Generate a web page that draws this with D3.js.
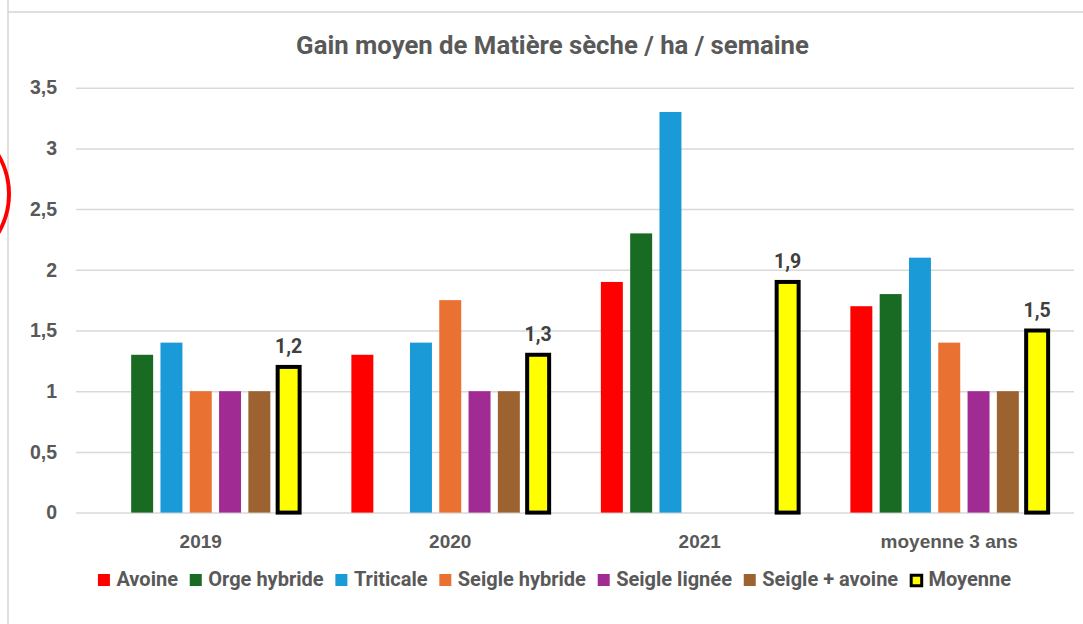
<!DOCTYPE html>
<html>
<head>
<meta charset="utf-8">
<script src="https://cdn.jsdelivr.net/npm/d3@7/dist/d3.min.js"></script>
<style>
  html, body { margin: 0; padding: 0; background: #fff; }
  svg { display: block; font-family: Roboto, "Noto Sans", sans-serif; }
</style>
</head>
<body>
<svg id="chart" width="1083" height="624"></svg>
<script>
// ---- Data ----
const title = "Gain moyen de Matière sèche / ha / semaine";
const categories = ["2019", "2020", "2021", "moyenne 3 ans"];
const seriesNames = ["Avoine", "Orge hybride", "Triticale", "Seigle hybride", "Seigle lignée", "Seigle + avoine", "Moyenne"];
const seriesColors = ["#FF0000", "#196B24", "#1A9BD7", "#E97132", "#A02B93", "#9C6330", "#FFFF00"];
const avoine        = [null, 1.3, 1.9, 1.7];
const orgeHybride   = [1.3, null, 2.3, 1.8];
const triticale     = [1.4, 1.4, 3.3, 2.1];
const seigleHybride = [1.0, 1.75, null, 1.4];
const seigleLignee  = [1.0, 1.0, null, 1.0];
const seigleAvoine  = [1.0, 1.0, null, 1.0];
const moyenne       = [1.2, 1.3, 1.9, 1.5];
const seriesValues = [avoine, orgeHybride, triticale, seigleHybride, seigleLignee, seigleAvoine, moyenne];
const yTicks = [0, 0.5, 1, 1.5, 2, 2.5, 3, 3.5];

// ---- Setup ----
const svg = d3.select("#chart");
const fr = d3.formatLocale({decimal: ",", thousands: " ", grouping: [3], currency: ["", " €"]});
const fmtTick = fr.format("~g");
const fmtVal = fr.format(".1f");

const plotLeft = 76, plotRight = 1074, plotTop = 87.7, plotBottom = 512.6;

// frame + annotation
svg.append("line").attr("x1", 8).attr("x2", 8).attr("y1", 0).attr("y2", 624)
  .attr("stroke", "#d4d4d4").attr("stroke-width", 1.5);
svg.append("line").attr("x1", 8).attr("x2", 1083).attr("y1", 12).attr("y2", 12)
  .attr("stroke", "#d4d4d4").attr("stroke-width", 1.5);
svg.append("circle").attr("cx", -67).attr("cy", 194).attr("r", 76)
  .attr("fill", "none").attr("stroke", "#FF0000").attr("stroke-width", 4);

const x0 = d3.scaleBand().domain(categories).range([plotLeft, plotRight])
  .paddingInner(0.178).paddingOuter(0.089);
const x1 = d3.scaleBand().domain(seriesNames).range([0, x0.bandwidth()])
  .paddingInner(0.25).paddingOuter(0.125);
const y = d3.scaleLinear().domain([0, 3.5]).range([plotBottom, plotTop]);
const color = d3.scaleOrdinal().domain(seriesNames).range(seriesColors);

// y axis + gridlines
const yAxis = svg.append("g").attr("transform", `translate(${plotLeft},0)`)
  .call(d3.axisLeft(y).tickValues(yTicks).tickFormat(fmtTick)
    .tickSizeInner(-(plotRight - plotLeft)).tickSizeOuter(0).tickPadding(19));
yAxis.select(".domain").remove();
yAxis.selectAll("line").attr("stroke", "#d9d9d9").attr("stroke-width", 1.5);
yAxis.selectAll("text").attr("fill", "#595959").attr("font-size", 19.5).attr("font-weight", 700);

// x axis
const xAxis = svg.append("g").attr("transform", `translate(0,${plotBottom})`)
  .call(d3.axisBottom(x0).tickSize(0).tickPadding(22));
xAxis.select(".domain").remove();
xAxis.selectAll("text").attr("fill", "#595959").attr("font-size", 19).attr("font-weight", 700);

// bars
const rows = [];
categories.forEach((c, ci) => {
  seriesNames.forEach((s, si) => {
    const v = seriesValues[si][ci];
    if (v !== null && v !== undefined) rows.push({cat: c, series: s, value: v});
  });
});

svg.append("g").selectAll("rect").data(rows).join("rect")
  .attr("x", d => x0(d.cat) + x1(d.series))
  .attr("width", x1.bandwidth())
  .attr("y", d => y(d.value))
  .attr("height", d => y(0) - y(d.value))
  .attr("fill", d => color(d.series))
  .attr("stroke", d => d.series === "Moyenne" ? "#000" : "none")
  .attr("stroke-width", d => d.series === "Moyenne" ? 4 : 0);

// data labels for Moyenne
svg.append("g").selectAll("text").data(rows.filter(d => d.series === "Moyenne")).join("text")
  .attr("x", d => x0(d.cat) + x1(d.series) + x1.bandwidth() / 2)
  .attr("y", d => y(d.value) - 13.5)
  .attr("text-anchor", "middle")
  .attr("font-size", 19.5).attr("font-weight", 700).attr("fill", "#404040")
  .text(d => fmtVal(d.value));

// title
const t = svg.append("text").attr("x", 552.5).attr("y", 53.5)
  .attr("text-anchor", "middle").attr("font-weight", 700).attr("fill", "#595959")
  .attr("font-size", 24).text(title);
const tw = t.node().getComputedTextLength();
t.attr("font-size", 24 * 513 / tw);

// legend
const lg = svg.append("g");
const items = lg.selectAll("g").data(seriesNames).join("g");
items.append("rect")
  .attr("width", d => d === "Moyenne" ? 10.5 : 12)
  .attr("height", d => d === "Moyenne" ? 10.5 : 12)
  .attr("x", d => d === "Moyenne" ? 1.25 : 0)
  .attr("y", d => d === "Moyenne" ? -12.75 : -14)
  .attr("fill", d => color(d))
  .attr("stroke", d => d === "Moyenne" ? "#000" : "none")
  .attr("stroke-width", d => d === "Moyenne" ? 3 : 0);
items.append("text").attr("x", 18.5).attr("y", -2)
  .attr("font-size", 20).attr("font-weight", 700).attr("fill", "#595959")
  .text(d => d);
let xpos = 0;
const widths = [];
items.each(function() {
  const w = d3.select(this).select("text").node().getComputedTextLength();
  widths.push(w);
});
const itemGap = 11.8;
items.attr("transform", (d, i) => {
  const tx = xpos;
  xpos += 18.5 + widths[i] + itemGap;
  return `translate(${tx},0)`;
});
const totalW = xpos - itemGap;
lg.attr("transform", `translate(${554.5 - totalW / 2},588)`);
</script>
</body>
</html>
